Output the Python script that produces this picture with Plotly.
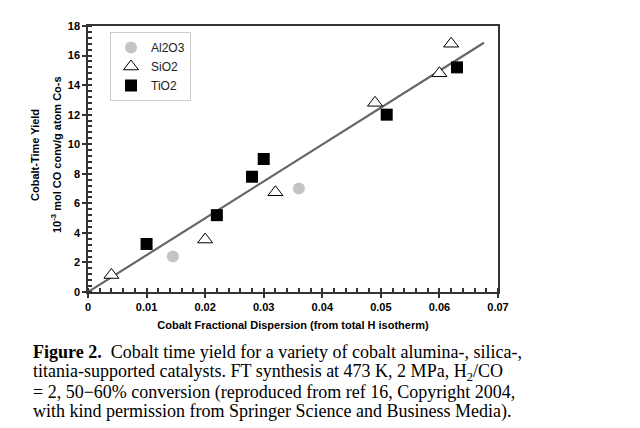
import plotly.graph_objects as go

al_x = [0.0145, 0.036]
al_y = [2.4, 7.0]
si_x = [0.004, 0.020, 0.032, 0.049, 0.060, 0.062]
si_y = [1.15, 3.55, 6.75, 12.8, 14.8, 16.8]
ti_x = [0.010, 0.022, 0.028, 0.030, 0.051, 0.063]
ti_y = [3.25, 5.2, 7.8, 9.0, 12.0, 15.2]
fit_x = [0.0, 0.0676]
fit_y = [0.0, 16.87]
x_tickvals = [0, 0.01, 0.02, 0.03, 0.04, 0.05, 0.06, 0.07]
x_ticktext = ["0", "0.01", "0.02", "0.03", "0.04", "0.05", "0.06", "0.07"]

OFF = 8  # browser body margin
L, R, T, B = 88 - OFF, 498 - OFF, 26 - OFF, 292 - OFF
W, H = 640 - OFF, 428 - OFF

def px(x):
    return (x - OFF - L) / (R - L)

def py(y):
    return (B - (y - OFF)) / (B - T)

fig = go.Figure()
fig.add_trace(go.Scatter(x=fit_x, y=fit_y, mode="lines",
                         line=dict(color="#666666", width=2.2), showlegend=False))
fig.add_trace(go.Scatter(x=al_x, y=al_y, mode="markers", name="Al2O3",
                         marker=dict(symbol="circle", size=12, color="#c4c4c4")))
fig.add_trace(go.Scatter(x=si_x, y=si_y, mode="markers", name="SiO2",
                         marker=dict(symbol="triangle-up", size=13, color="white",
                                     line=dict(color="black", width=1))))
fig.add_trace(go.Scatter(x=ti_x, y=ti_y, mode="markers", name="TiO2",
                         marker=dict(symbol="square", size=12, color="black")))

axis_font = dict(family="Liberation Sans, Arial", size=11, color="black")
tick_font = dict(family="Liberation Sans, Arial", size=11, color="black", weight="bold")
fig.update_xaxes(range=[0, 0.07], tickvals=x_tickvals, ticktext=x_ticktext, automargin=False,
                 showgrid=False, zeroline=False,
                 showline=True, mirror=True, linecolor="#333333", linewidth=1.5,
                 ticks="outside", ticklen=4, tickcolor="#333333", tickwidth=1.5,
                 minor=dict(dtick=0.002, ticks="inside", ticklen=4, tickcolor="#333333"),
                 tickfont=tick_font,
                 title=dict(text="<b>Cobalt Fractional Dispersion (from total H isotherm)</b>",
                            font=axis_font, standoff=9))
fig.update_yaxes(range=[0, 18], dtick=2, automargin=False, showgrid=False, zeroline=False,
                 showline=True, mirror=True, linecolor="#333333", linewidth=1.5,
                 ticks="outside", ticklen=4, tickcolor="#333333", tickwidth=1.5,
                 minor=dict(dtick=0.4, ticks="inside", ticklen=4, tickcolor="#333333"),
                 tickfont=tick_font)

fig.add_annotation(x=px(35), y=py(155), xref="paper", yref="paper", textangle=-90,
                   xanchor="center", yanchor="middle",
                   text="<b>Cobalt-Time Yield</b>", showarrow=False, font=axis_font)
fig.add_annotation(x=px(56), y=py(155), xref="paper", yref="paper", textangle=-90,
                   xanchor="center", yanchor="middle",
                   text="<b>10<sup>-3</sup> mol CO conv/g atom Co-s</b>", showarrow=False, font=axis_font)

cap_font = dict(family="Liberation Serif, Times New Roman", size=18, color="black")
lines = [
    "<b>Figure 2.</b>&nbsp; Cobalt time yield for a variety of cobalt alumina-, silica-,",
    "titania-supported catalysts. FT synthesis at 473 K, 2 MPa, H<sub>2</sub>/CO",
    "= 2, 50−60% conversion (reproduced from ref 16, Copyright 2004,",
    "with kind permission from Springer Science and Business Media).",
]
ys = [352, 372, 392, 411]
for t, yy in zip(lines, ys):
    fig.add_annotation(x=px(31), y=py(yy), xref="paper", yref="paper", xanchor="left",
                       yanchor="middle", text=t, showarrow=False, font=cap_font)

fig.update_layout(
    width=W, height=H, margin=dict(l=L, r=W - R, t=T, b=H - B, autoexpand=False),
    paper_bgcolor="white", plot_bgcolor="white",
    legend=dict(x=px(110), y=py(32), xanchor="left", yanchor="top",
                bordercolor="#cccccc", borderwidth=1, bgcolor="white",
                font=dict(family="Liberation Sans, Arial", size=12, color="#222222"),
                itemwidth=30, tracegroupgap=0),
)
fig.write_html("out.html")
